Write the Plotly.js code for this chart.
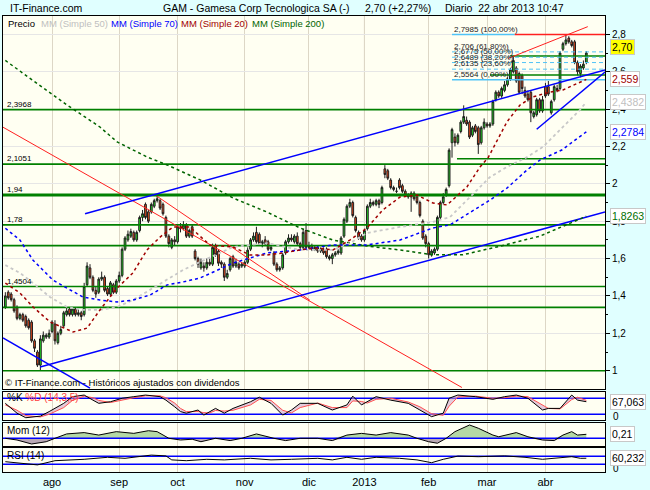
<!DOCTYPE html>
<html><head><meta charset="utf-8">
<script src="https://cdn.plot.ly/plotly-3.0.1.min.js"></script>
<style>html,body{margin:0;padding:0;background:#E0FFFF;}#chart{width:650px;height:490px;}</style>
</head><body><div id="chart"></div>
<script>
// ---------- DATA ----------
const monthIdx = [16,39,59,82,104,123,145,165,185];
const monthTxt = ['ago','sep','oct','nov','dic','2013','feb','mar','abr'];

const open = [1.34,1.42,1.41,1.38,1.34,1.28,1.30,1.29,1.27,1.26,
 1.16,1.10,1.03,1.16,1.18,1.18,1.21,1.25,1.15,1.20,
 1.24,1.30,1.33,1.30,1.33,1.30,1.31,1.30,1.46,1.55,
 1.50,1.43,1.42,1.49,1.50,1.44,1.41,1.46,1.42,1.48,
 1.51,1.65,1.70,1.72,1.74,1.70,1.75,1.82,1.89,1.85,
 1.85,1.88,1.91,1.91,1.89,1.82,1.72,1.66,1.70,1.69,
 1.77,1.76,1.78,1.72,1.77,1.64,1.60,1.55,1.56,1.55,
 1.58,1.57,1.67,1.64,1.58,1.57,1.50,1.54,1.61,1.56,
 1.57,1.56,1.56,1.58,1.65,1.70,1.74,1.73,1.68,1.70,
 1.69,1.65,1.63,1.57,1.54,1.55,1.63,1.69,1.71,1.69,
 1.72,1.68,1.66,1.75,1.66,1.67,1.65,1.66,1.64,1.65,
 1.65,1.60,1.60,1.62,1.63,1.63,1.72,1.80,1.88,1.90,
 1.82,1.74,1.72,1.70,1.76,1.88,1.90,1.89,1.91,1.90,
 2.08,2.07,2.02,1.98,1.96,2.02,1.99,1.96,1.94,1.93,
 1.95,1.93,1.90,1.80,1.72,1.68,1.62,1.63,1.65,1.82,
 1.90,1.94,1.99,2.22,2.25,2.22,2.28,2.33,2.34,2.33,
 2.26,2.31,2.30,2.22,2.30,2.32,2.31,2.32,2.45,2.49,
 2.47,2.50,2.53,2.56,2.60,2.62,2.59,2.58,2.50,2.48,
 2.49,2.36,2.37,2.45,2.39,2.52,2.52,2.38,2.45,2.51,
 2.51,2.72,2.75,2.78,2.76,2.76,2.65,2.59,2.62,2.65];
const high = [1.42,1.43,1.42,1.39,1.35,1.31,1.31,1.30,1.28,1.27,
 1.17,1.11,1.19,1.21,1.20,1.22,1.27,1.27,1.21,1.24,
 1.32,1.34,1.34,1.34,1.34,1.33,1.32,1.47,1.58,1.57,
 1.51,1.45,1.50,1.53,1.51,1.45,1.48,1.47,1.49,1.53,
 1.66,1.72,1.75,1.76,1.75,1.75,1.83,1.86,1.90,1.86,
 1.90,1.92,1.945,1.92,1.90,1.83,1.73,1.71,1.72,1.78,
 1.79,1.80,1.79,1.76,1.78,1.65,1.61,1.60,1.58,1.60,
 1.60,1.68,1.68,1.65,1.59,1.58,1.54,1.61,1.62,1.60,
 1.58,1.58,1.59,1.66,1.71,1.74,1.77,1.74,1.70,1.72,
 1.70,1.67,1.64,1.58,1.56,1.63,1.70,1.73,1.73,1.73,
 1.74,1.69,1.76,1.79,1.69,1.68,1.67,1.67,1.66,1.66,
 1.66,1.62,1.63,1.64,1.65,1.72,1.82,1.89,1.92,1.91,
 1.83,1.75,1.73,1.76,1.89,1.92,1.91,1.92,1.92,1.99,
 2.10,2.08,2.03,1.99,1.98,2.03,2.00,1.97,1.95,1.96,
 1.96,1.94,1.91,1.81,1.73,1.69,1.65,1.66,1.83,1.91,
 1.95,1.98,2.19,2.30,2.27,2.27,2.34,2.42,2.36,2.34,
 2.31,2.32,2.31,2.31,2.35,2.33,2.33,2.45,2.50,2.50,
 2.52,2.55,2.57,2.62,2.685,2.63,2.60,2.59,2.52,2.50,
 2.50,2.39,2.46,2.46,2.47,2.54,2.55,2.45,2.53,2.53,
 2.71,2.76,2.7985,2.79,2.77,2.77,2.66,2.64,2.66,2.71];
const low = [1.33,1.38,1.37,1.31,1.27,1.27,1.26,1.23,1.22,1.15,
 1.10,1.02,1.00,1.15,1.17,1.17,1.20,1.14,1.14,1.19,
 1.23,1.29,1.29,1.29,1.29,1.29,1.27,1.29,1.45,1.49,
 1.42,1.39,1.41,1.48,1.42,1.40,1.40,1.41,1.41,1.47,
 1.50,1.64,1.69,1.71,1.69,1.69,1.74,1.80,1.81,1.79,
 1.84,1.87,1.90,1.86,1.83,1.71,1.66,1.65,1.67,1.68,
 1.74,1.75,1.71,1.71,1.71,1.59,1.55,1.54,1.53,1.54,
 1.56,1.56,1.61,1.56,1.55,1.48,1.49,1.53,1.55,1.55,
 1.54,1.55,1.55,1.57,1.64,1.69,1.68,1.67,1.66,1.67,
 1.64,1.64,1.56,1.53,1.53,1.54,1.62,1.68,1.69,1.68,
 1.67,1.65,1.65,1.65,1.65,1.64,1.64,1.63,1.63,1.62,
 1.60,1.59,1.57,1.61,1.62,1.62,1.71,1.79,1.87,1.82,
 1.74,1.70,1.69,1.69,1.75,1.87,1.88,1.88,1.87,1.89,
 2.03,2.02,1.97,1.96,1.95,1.97,1.95,1.93,1.92,1.85,
 1.91,1.89,1.82,1.70,1.66,1.60,1.61,1.62,1.64,1.81,
 1.89,1.93,1.98,2.14,2.20,2.21,2.27,2.32,2.31,2.24,
 2.25,2.27,2.16,2.21,2.29,2.30,2.30,2.31,2.44,2.46,
 2.46,2.49,2.52,2.55,2.59,2.54,2.48,2.48,2.46,2.44,
 2.33,2.35,2.36,2.38,2.38,2.46,2.47,2.37,2.44,2.49,
 2.50,2.71,2.74,2.75,2.73,2.64,2.58,2.57,2.61,2.64];
const close = [1.40,1.39,1.38,1.32,1.28,1.30,1.27,1.24,1.23,1.16,
 1.12,1.03,1.17,1.19,1.19,1.20,1.26,1.16,1.20,1.22,
 1.31,1.32,1.30,1.33,1.30,1.31,1.29,1.45,1.56,1.50,
 1.43,1.41,1.49,1.50,1.43,1.41,1.47,1.42,1.48,1.51,
 1.65,1.71,1.73,1.745,1.70,1.74,1.82,1.84,1.82,1.80,
 1.89,1.91,1.92,1.87,1.84,1.72,1.68,1.70,1.69,1.77,
 1.76,1.78,1.72,1.75,1.72,1.60,1.57,1.58,1.55,1.58,
 1.57,1.66,1.62,1.575,1.57,1.50,1.52,1.60,1.56,1.58,
 1.55,1.57,1.58,1.645,1.70,1.72,1.69,1.68,1.69,1.68,
 1.65,1.66,1.57,1.54,1.55,1.62,1.69,1.71,1.70,1.72,
 1.68,1.66,1.74,1.66,1.67,1.65,1.66,1.64,1.65,1.63,
 1.61,1.61,1.62,1.63,1.64,1.71,1.81,1.88,1.90,1.83,
 1.75,1.71,1.70,1.75,1.88,1.90,1.89,1.91,1.89,1.98,
 2.05,2.03,1.98,1.97,1.96,1.98,1.96,1.94,1.93,1.95,
 1.92,1.90,1.83,1.71,1.68,1.62,1.64,1.65,1.82,1.90,
 1.93,1.97,2.18,2.29,2.22,2.26,2.33,2.36,2.32,2.25,
 2.30,2.28,2.21,2.30,2.33,2.31,2.32,2.44,2.49,2.47,
 2.51,2.53,2.56,2.61,2.66,2.55,2.49,2.51,2.47,2.45,
 2.38,2.38,2.45,2.39,2.45,2.47,2.48,2.44,2.52,2.50,
 2.70,2.75,2.77,2.76,2.74,2.65,2.60,2.63,2.64,2.70];

// moving averages (trading-day index, value)
const sma20X = [0,5,9.5,15.3,23.2,28,32.4,38.3,43.7,48.5,53,57.4,63.2,70.1,78,83.8,89.6,95.1,100.9,106.7,112.2,118,123.9,129.3,135.2,141,146.5,151.3,158.1,162.6,165.3,171.8,176.3,180.7,186.5,191,199];
const sma20V = [1.469,1.416,1.341,1.261,1.207,1.228,1.325,1.442,1.523,1.646,1.715,1.769,1.769,1.672,1.662,1.619,1.619,1.630,1.646,1.657,1.646,1.699,1.764,1.860,1.929,1.940,1.897,1.887,1.983,2.090,2.138,2.331,2.422,2.465,2.491,2.502,2.559];
const sma50X = [0,5,9.5,15.3,21.1,26.6,32.4,38.3,43.7,49.6,55.4,60.9,66.7,78,89.6,100.9,112.2,118,123.9,135.2,146.5,152.3,166,171.8,178.7,184.1,196.8,199];
const sma50V = [1.565,1.523,1.469,1.394,1.341,1.325,1.325,1.341,1.378,1.432,1.485,1.539,1.582,1.662,1.683,1.646,1.646,1.683,1.737,1.769,1.796,1.822,2.036,2.090,2.143,2.197,2.395,2.4382];
const sma70X = [0,5,9.5,16.3,21.1,26.6,32.4,38.3,43.7,49.6,55.4,60.9,66.7,78,89.6,100.9,112.2,123.9,135.2,146.5,152.3,166,171.8,178.7,183.1,190.6,199];
const sma70V = [1.762,1.699,1.591,1.485,1.442,1.394,1.378,1.368,1.378,1.405,1.459,1.475,1.496,1.576,1.630,1.646,1.673,1.673,1.699,1.764,1.780,1.913,1.977,2.074,2.127,2.181,2.2784];
const sma200X = [0,10.2,21.1,32.4,38.3,48.5,55.4,66.7,78,89.6,100.9,112.2,123.9,135.2,146.5,156.7,169.4,183.1,199];
const sma200V = [2.66,2.545,2.422,2.304,2.224,2.144,2.101,2.021,1.924,1.849,1.764,1.699,1.667,1.646,1.620,1.620,1.666,1.720,1.8263];

// support / resistance levels
const hLevels = [2.3968,2.1051,1.94,1.78,1.669,1.4504,1.339,1.0,2.134,2.684,2.582];
const hFrom   = [-1,-1,-1,-1,-1,-1,-1,-1,154.7,172.8,166];
const hLabels = ['2,3968','2,1051','1,94','1,78','','1,4504','','','','',''];

// fibonacci retracement
const fibLevels = [2.7985,2.706,2.6775,2.6489,2.6135,2.5564];
const fibTxt = ['2,7985 (100,00%)','2,706 (61,80%)','2,6775 (50,00%)','2,6489 (38,20%)','2,6135 (23,60%)','2,5564 (0,00%)'];
const fibStart = 153, fibSplit = 174.5;

// trend lines [start, end]
const trendX = [[-0.8,156.4],[51.9,104.3],[27.3,205.4],[11.9,205.4],[-0.8,29],[182,205.4],[172.2,199.5]];
const trendY = [[2.303,0.91],[1.934,1.377],[1.84,2.609],[1.02,1.849],[1.175,0.907],[2.292,2.598],[2.671,2.841]];
const trendKind = ['r','r','b','b','b','b','r'];

// indicators
const stochX = [0,4,7,12,15,20,23,27,30,32,36,40,44,48,53,55,58,60,62,66,68,70,72,75,78,84,87,91,95,98,101,107,112,117,119,122,124,127,132,138,142,146,150,152,155,161,167,171,175,179,184,186,190,194,196,199];
const stochK = [61,24,7,13,30,61,86,92,73,61,67,80,86,92,86,73,48,30,24,36,17,30,42,24,42,67,84,61,17,36,61,61,36,55,88,55,67,86,73,61,36,11,24,80,92,86,76,86,92,80,36,42,42,92,73,67.063];
const stochD = [55,35,15,10,20,45,72,88,82,72,64,74,82,89,89,82,62,42,30,30,26,25,34,32,35,55,76,72,35,25,45,62,45,45,70,68,62,76,80,66,48,22,16,50,85,88,80,82,88,86,55,42,40,75,84,72];
const momX = [0,4,9,14,17,21,27,32,38,44,49,52,56,60,64,67,72,77,81,86,92,96,101,107,112,117,122,127,132,138,141,145,148,151,154,159,162,167,169,175,179,184,188,191,194,196,199];
const momV = [0,-0.09,-0.30,-0.18,0,0.23,0.30,0.17,0.35,0.26,0.40,0.35,0,-0.09,-0.05,-0.18,0,-0.12,0,0.23,0,-0.12,0,0,-0.12,0.17,0.26,0.17,0.30,0.17,0,-0.18,-0.26,0,0.35,0.70,0.53,0.17,0.08,0.30,0.08,-0.09,-0.12,0.17,0.35,0.17,0.21];
const rsiX = [0,7,11,17,27,35,41,50,55,57,62,69,75,84,91,98,107,112,117,122,127,135,141,146,150,155,162,171,178,184,189,194,197,199];
const rsiV = [43,35,27,48,55,65,60,76,72,52,48,55,52,60,52,55,60,52,65,55,65,60,52,38,55,71,68,72,65,55,60,68,60,60.232];

// ---------- BUILD ----------
const W = 650, H = 490;
const fx = p => p / W, fy = p => 1 - p / H;
const XR = [-0.8, 205.4];
const dayIdx = close.map((_, i) => i);
const last = a => a[a.length - 1];
const fmt = (v, d) => v.toFixed(d).replace('.', ',');
const traces = [];
function seg(x, y, color, width, dash, ya) {
  traces.push({type:'scatter', mode:'lines', x:x, y:y, xaxis: ya==='y'?'x':'x'+ya.slice(1), yaxis:ya,
    line:{color:color, width:width, dash:dash||'solid'}, hoverinfo:'skip', showlegend:false});
}
// green levels
hLevels.forEach((v,k)=> seg([hFrom[k], XR[1]], [v,v], '#008000', v===1.94?3:1.6, 'solid', 'y'));
// fibonacci
fibLevels.forEach((v,k)=>{
  if (k===0) { seg([fibStart, fibSplit],[v,v],'#4FC3F7',1.5,'solid','y'); seg([fibSplit, XR[1]],[v,v],'#FF2020',1.5,'solid','y'); }
  else if (k===fibLevels.length-1) seg([fibStart, XR[1]],[v,v],'#4FC3F7',1.5,'solid','y');
  else seg([fibStart, XR[1]],[v,v],'#4FC3F7',1,'4px,3px','y');
});
// trend lines
trendX.forEach((x,k)=> seg(x, trendY[k], trendKind[k]==='r'?'#FF2020':'#0000FF', trendKind[k]==='r'?1:1.5, 'solid','y'));
// moving averages
const maDash = '3px,3px';
seg(sma200X, sma200V, '#006400', 1.5, maDash, 'y');
seg(sma50X, sma50V, '#C8C8C8', 1.8, maDash, 'y');
seg(sma70X, sma70V, '#0000FF', 1.5, maDash, 'y');
seg(sma20X, sma20V, '#A00000', 1.5, maDash, 'y');
// candles
traces.push({type:'candlestick', x:dayIdx, open:open, high:high, low:low, close:close, xaxis:'x', yaxis:'y',
  increasing:{line:{color:'#1E1E1E', width:1}, fillcolor:'#22E022'},
  decreasing:{line:{color:'#1E1E1E', width:1}, fillcolor:'#F04A1A'},
  whiskerwidth:0, hoverinfo:'skip', showlegend:false});
// stochastic
seg(XR,[80,80],'#0000FF',1.5,'solid','y2'); seg(XR,[20,20],'#0000FF',1.5,'solid','y2');
traces.push({type:'scatter', mode:'lines', x:stochX, y:stochD, xaxis:'x2', yaxis:'y2', line:{color:'#FF5050', width:1}, hoverinfo:'skip', showlegend:false});
traces.push({type:'scatter', mode:'lines', x:stochX, y:stochK, xaxis:'x2', yaxis:'y2', line:{color:'#000', width:1}, fill:'tonexty', fillcolor:'rgba(205,160,200,0.55)', hoverinfo:'skip', showlegend:false});
// momentum
traces.push({type:'scatter', mode:'lines', x:momX, y:momV.map(v=>Math.max(v,0)), xaxis:'x3', yaxis:'y3', line:{width:0}, fill:'tozeroy', fillcolor:'#B5D8A5', hoverinfo:'skip', showlegend:false});
traces.push({type:'scatter', mode:'lines', x:momX, y:momV.map(v=>Math.min(v,0)), xaxis:'x3', yaxis:'y3', line:{width:0}, fill:'tozeroy', fillcolor:'#B9A9B5', hoverinfo:'skip', showlegend:false});
seg(XR,[0,0],'#0000FF',1.5,'solid','y3');
traces.push({type:'scatter', mode:'lines', x:momX, y:momV, xaxis:'x3', yaxis:'y3', line:{color:'#000', width:1}, hoverinfo:'skip', showlegend:false});
// RSI
seg(XR,[70,70],'#0000FF',1.5,'solid','y4'); seg(XR,[30,30],'#0000FF',1.5,'solid','y4');
traces.push({type:'scatter', mode:'lines', x:rsiX, y:rsiV, xaxis:'x4', yaxis:'y4', line:{color:'#000', width:1}, hoverinfo:'skip', showlegend:false});

// ---------- LAYOUT ----------
const FONT = 'Liberation Sans, Arial, sans-serif';
const xDom = [fx(3), fx(605)];
function xAx(anchor, labels) {
  return {domain:xDom, range:XR, anchor:anchor, tickmode:'array', tickvals:monthIdx, ticktext:monthTxt,
    showticklabels:labels, ticks:'', showgrid:true, gridcolor:'#DDD7C6', gridwidth:1, zeroline:false,
    showline:true, mirror:true, linecolor:'#000', linewidth:1, fixedrange:true,
    tickfont:{size:11, family:FONT}, rangeslider:{visible:false}};
}
function yAx(anchor, dom, range) {
  return {domain:dom, range:range, anchor:anchor, side:'right', showticklabels:false, ticks:'', showgrid:false,
    zeroline:false, showline:true, mirror:true, linecolor:'#000', linewidth:1, fixedrange:true};
}
const yTicks = [1,1.2,1.4,1.6,1.8,2,2.2,2.4,2.6,2.8];
const yMinor = [1.1,1.3,1.5,1.7,1.9,2.1,2.3,2.5,2.7];
const mainY = yAx('x', [fy(389), fy(16)], [0.902, 2.898]);
Object.assign(mainY, {showticklabels:true, tickmode:'array', tickvals:yTicks, ticktext:yTicks.map(v=>String(v).replace('.',',')),
  ticks:'outside', ticklen:4, tickcolor:'#000', showgrid:true, gridcolor:'#E6E6E6',
  minor:{tickmode:'array', tickvals:yMinor, ticks:'outside', ticklen:2, tickcolor:'#000', showgrid:false},
  tickfont:{size:10, family:FONT, color:'#000'}});

const ann = [];
function txt(text, xp, yp, size, color, extra) {
  ann.push(Object.assign({text:text, x:fx(xp), y:fy(yp), xref:'paper', yref:'paper', xanchor:'left', yanchor:'middle',
    showarrow:false, font:{size:size, color:color||'#000', family:FONT}}, extra||{}));
}
txt('IT-Finance.com', 8, 8, 10.5);
txt('GAM - Gamesa Corp Tecnologica SA (-)', 161, 8, 10.5);
txt(fmt(last(close),2)+' (+2,27%)', 363, 8, 10.5);
txt('Diario\u00a0\u00a022 abr 2013 10:47', 443, 8, 10.5);
txt('Precio', 6, 23, 9.5);
txt('MM (Simple 50)', 39, 23, 9.5, '#C0C0C0');
txt('MM (Simple 70)', 109, 23, 9.5, '#0000FF');
txt('MM (Simple 20)', 179, 23, 9.5, '#A00000');
txt('MM (Simple 200)', 250, 23, 9.5, '#006400');
txt('© IT-Finance.com - Históricos ajustados con dividendos', 3, 382, 9.5);
txt('%K <span style="color:#FF4040">%D (14,3,5)</span>', 5, 397, 10);
txt('Mom (12)', 5, 430, 10);
txt('RSI (14)', 5, 455, 10);
txt('0', 611, 416, 10);
txt('0', 611, 468, 10);
// level labels
hLevels.forEach((v,k)=>{ if (hLabels[k]) ann.push({text:hLabels[k], x:fx(5), y:v, xref:'paper', yref:'y', xanchor:'left', yanchor:'bottom', yshift:-1, showarrow:false, font:{size:8, family:FONT, color:'#000'}}); });
fibLevels.forEach((v,k)=> ann.push({text:fibTxt[k], x:fibStart, y:v, xref:'x', yref:'y', xanchor:'left', yanchor:'bottom', yshift:-1, showarrow:false, font:{size:8, family:FONT, color:'#222'}}));
// value boxes
function box(text, y, yref, color, bg, yshift) {
  ann.push({text:text, x:fx(610), y:y, xref:'paper', yref:yref, xanchor:'left', yanchor:'middle', yshift:yshift||0,
    showarrow:false, bgcolor:bg||'#FFFFFF', bordercolor:'#C8C8C8', borderwidth:1, borderpad:1,
    font:{size:10.5, color:color, family:FONT}});
}
box(fmt(last(close),2), last(close), 'y', '#000', '#FFFF00', 6);
box(fmt(last(sma20V),3), last(sma20V), 'y', '#A00000');
box(fmt(last(sma50V),4), last(sma50V), 'y', '#C0C0C0');
box(fmt(last(sma70V),4), last(sma70V), 'y', '#0000FF');
box(fmt(last(sma200V),4), last(sma200V), 'y', '#007000');
box(fmt(last(stochK),3), last(stochK), 'y2', '#000');
box(fmt(last(momV),2), last(momV), 'y3', '#000');
box(fmt(last(rsiV),3), last(rsiV), 'y4', '#000');

const shapes = ['y','y2','y3','y4'].map(ya=>({type:'line', xref: ya==='y'?'x':'x'+ya.slice(1), yref: ya+' domain',
  x0:monthIdx[5], x1:monthIdx[5], y0:0, y1:1, line:{color:'#C4B8A8', width:1}, layer:'below'}));

const layout = {
  width:W, height:H, margin:{l:0,r:0,t:0,b:0}, autosize:false,
  paper_bgcolor:'#E0FFFF', plot_bgcolor:'#FFFFF2', showlegend:false, hovermode:false,
  boxgap:0.15, font:{family:FONT, size:10, color:'#000'},
  xaxis:xAx('y', false), xaxis2:Object.assign(xAx('y2', false), {matches:'x'}),
  xaxis3:Object.assign(xAx('y3', false), {matches:'x'}), xaxis4:Object.assign(xAx('y4', true), {matches:'x'}),
  yaxis:mainY,
  yaxis2:yAx('x2', [fy(420), fy(391.7)], [-1.5, 104.6]),
  yaxis3:yAx('x3', [fy(446), fy(423.3)], [-0.405, 0.789]),
  yaxis4:yAx('x4', [fy(471.7), fy(448.3)], [-7, 110]),
  annotations:ann, shapes:shapes
};
Plotly.newPlot('chart', traces, layout, {staticPlot:true, displayModeBar:false});
</script></body></html>
